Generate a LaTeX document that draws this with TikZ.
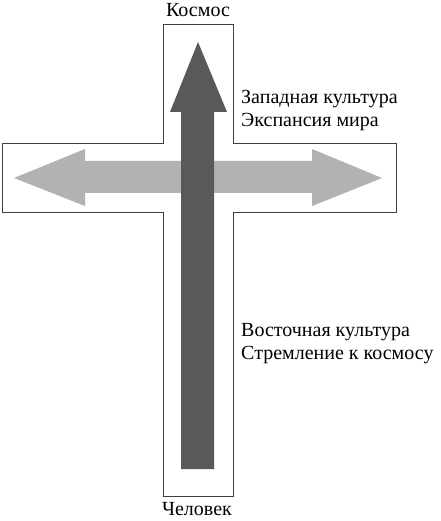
\documentclass[tikz,border=0pt]{standalone}
\usepackage{fontspec}
\setmainfont{Liberation Serif}
\begin{document}
\begin{tikzpicture}[x=1pt,y=-1pt,
  outline/.style={draw=black!75,line width=0.9pt,fill=white},
  darkarrow/.style={fill=black!65,draw=none},
  lightarrow/.style={fill=black!30,draw=none},
  lbl/.style={font=\fontsize{20}{23}\selectfont,inner sep=0pt},
  side/.style={lbl,anchor=west,align=left}]
\useasboundingbox (0,0) rectangle (440,521);
\fill[white] (0,0) rectangle (440,521);
% cross outline
\draw[outline] (163,24) -- (233,24) -- (233,143) -- (396,143) -- (396,212)
  -- (233,212) -- (233,496) -- (163,496) -- (163,212) -- (2,212)
  -- (2,143) -- (163,143) -- cycle;
% horizontal double arrow
\fill[lightarrow] (14,178) -- (85,149) -- (85,161) -- (312,161) -- (312,149)
  -- (382,178) -- (312,206) -- (312,193) -- (85,193) -- (85,206) -- cycle;
% vertical arrow
\fill[darkarrow] (198,42) -- (227,112) -- (214,112) -- (214,469) -- (181,469)
  -- (181,112) -- (170,112) -- cycle;
% labels
\node[lbl] (kosmos) at (198,10) {Космос};
\node[lbl] (chelovek) at (197,509) {Человек};
\node[side] (west) at (241,111) {Западная культура\\Экспансия мира};
\node[side] (east) at (241,344) {Восточная культура\\Стремление к космосу};
\end{tikzpicture}
\end{document}
